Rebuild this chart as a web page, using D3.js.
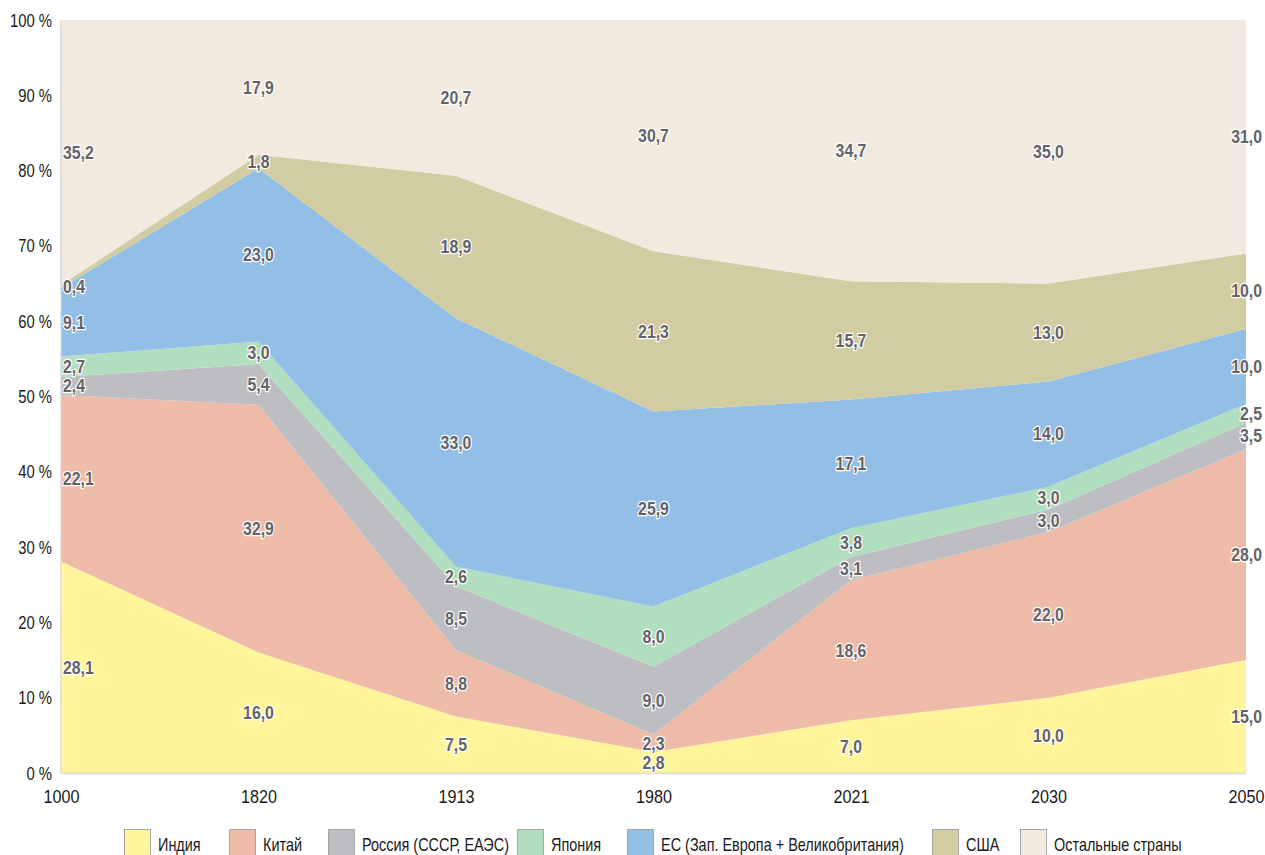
<!DOCTYPE html>
<html><head><meta charset="utf-8">
<script src="https://cdn.jsdelivr.net/npm/d3@7"></script>
<style>
body{margin:0;background:#fff;}
svg{display:block;font-family:"Liberation Sans",Arial,sans-serif;}
</style></head><body>
<svg id="chart" width="1265" height="855"></svg>
<script>
const years = ["1000","1820","1913","1980","2021","2030","2050"];
const seriesNames = ["Индия","Китай","Россия (СССР, ЕАЭС)","Япония","ЕС (Зап. Европа + Великобритания)","США","Остальные страны"];
const india  = [28.1,16.0,7.5,2.8,7.0,10.0,15.0];
const china  = [22.1,32.9,8.8,2.3,18.6,22.0,28.0];
const russia = [2.4,5.4,8.5,9.0,3.1,3.0,3.5];
const japan  = [2.7,3.0,2.6,8.0,3.8,3.0,2.5];
const eu     = [9.1,23.0,33.0,25.9,17.1,14.0,10.0];
const usa    = [0.4,1.8,18.9,21.3,15.7,13.0,10.0];
const rest   = [35.2,17.9,20.7,30.7,34.7,35.0,31.0];
const yTicks = [0,10,20,30,40,50,60,70,80,90,100];
const colors = ["#fff59b","#efbba9","#bdbec2","#b2dec0","#93bfe6","#d1cca1","#f2eadf"];

function squeeze(sel, f){
  sel.each(function(){
    const w = this.getComputedTextLength();
    d3.select(this).attr("textLength", w*f).attr("lengthAdjust","spacingAndGlyphs");
  });
}

const allSeries = [india,china,russia,japan,eu,usa,rest];
const keys = seriesNames;
const rows = years.map((y,i)=>{const o={year:y}; keys.forEach((k,j)=>o[k]=allSeries[j][i]); return o;});
const stack = d3.stack().keys(keys)(rows);

const svg = d3.select("#chart");
const x = d3.scalePoint().domain(years).range([61,1246]);
const y = d3.scaleLinear().domain([0,100]).range([773,20]);

const area = d3.area().x(d=>x(d.data.year)).y0(d=>y(d[0])).y1(d=>y(d[1]));
svg.append("g").selectAll("path").data(stack).join("path")
  .attr("d",area).attr("fill",(d,i)=>colors[i]);

// axis lines
svg.append("line").attr("x1",61).attr("x2",1246).attr("y1",773.5).attr("y2",773.5).attr("stroke","#d9d9d9").attr("stroke-width",1.5);
svg.append("line").attr("x1",61).attr("x2",61).attr("y1",20).attr("y2",774).attr("stroke","#d9d9d9").attr("stroke-width",1.5);

// y axis labels
const yAxis = d3.axisLeft(y).tickValues(yTicks).tickFormat(d=>d+" %").tickSize(0).tickPadding(9);
const gy = svg.append("g").attr("transform","translate(61,0)").call(yAxis);
gy.select(".domain").remove();
gy.selectAll("text").attr("font-size",19).attr("fill","#1a1a1a").style("font-family","inherit").call(squeeze,0.78);

const xAxis = d3.axisBottom(x).tickSize(0).tickPadding(17);
const gx = svg.append("g").attr("transform","translate(0,773)").call(xAxis);
gx.select(".domain").remove();
gx.selectAll("text").attr("font-size",19).attr("fill","#1a1a1a").style("font-family","inherit").call(squeeze,0.85);

// data labels
const labels = [];
years.forEach((yr,i)=>{
  const col = stack.map((s,j)=>({v:allSeries[j][i], yy:y((s[i][0]+s[i][1])/2)}));
  const sorted = col.slice().sort((a,b)=>b.yy-a.yy);
  for(let k=1;k<sorted.length;k++){
    if(sorted[k-1].yy - sorted[k].yy < 19) sorted[k].yy = sorted[k-1].yy - 19;
  }
  col.forEach(c=>labels.push({i, v:c.v, yy:c.yy}));
});
const fmt = v=>d3.format(".1f")(v).replace(".",",");
svg.append("g").selectAll("text").data(labels).join("text")
  .attr("x",d=> d.i===0 ? x(years[0])+2 : d.i===years.length-1 ? x(years[d.i])+16 : x(years[d.i]))
  .attr("y",d=>d.yy).attr("dy","0.35em")
  .attr("text-anchor",d=> d.i===0 ? "start" : d.i===years.length-1 ? "end" : "middle")
  .attr("font-size",18).attr("font-weight","bold").attr("fill","#636367")
  .attr("stroke","#fff").attr("stroke-width",2.5).attr("paint-order","stroke").attr("stroke-linejoin","round")
  .text(d=>fmt(d.v)).call(squeeze,0.88);

// legend
const legendX = [124,229,328,517,627,932,1020];
const lg = svg.append("g").selectAll("g").data(seriesNames).join("g")
  .attr("transform",(d,i)=>`translate(${legendX[i]},829)`);
lg.append("rect").attr("x",0.5).attr("y",0.5).attr("width",26).attr("height",26)
  .attr("fill",(d,i)=>colors[i]).attr("stroke","#a6a6a6").attr("stroke-width",1);
lg.append("text").attr("x",34).attr("y",15).attr("dy","0.35em").attr("font-size",19).attr("fill","#1a1a1a").text(d=>d).call(squeeze,0.76);
</script>
</body></html>
